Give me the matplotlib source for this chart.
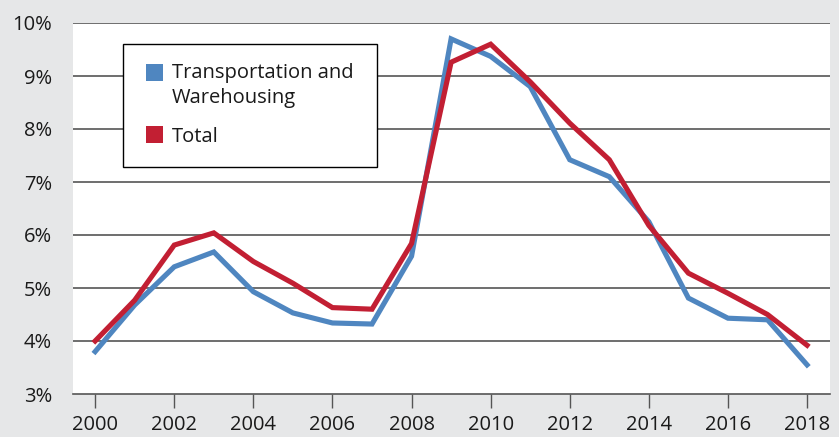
import matplotlib
matplotlib.use("Agg")
import matplotlib.pyplot as plt
from matplotlib.patches import Rectangle
from matplotlib.ticker import FuncFormatter

years = list(range(2000, 2019))
transport = [3.8, 4.68, 5.4, 5.68, 4.93, 4.53, 4.34, 4.32, 5.6, 9.7, 9.37, 8.8,
             7.42, 7.1, 6.25, 4.81, 4.43, 4.4, 3.55]
total = [4.0, 4.77, 5.81, 6.04, 5.5, 5.09, 4.63, 4.6, 5.84, 9.26, 9.6, 8.89,
         8.11, 7.42, 6.18, 5.28, 4.9, 4.5, 3.92]
series_names = ["Transportation and\nWarehousing", "Total"]
colors = ["#4f86c0", "#c21f33"]
yticks = [3, 4, 5, 6, 7, 8, 9, 10]
xticks = list(range(2000, 2019, 2))

plt.rcParams['font.family'] = ['Open Sans', 'DejaVu Sans']

W, H = 839, 437
fig = plt.figure(figsize=(W/100, H/100), dpi=100)
fig.patch.set_facecolor("#e6e7e8")
ax = fig.add_axes([73/W, 1-394/H, 757/W, 371/H])
ax.set_facecolor("white")

for y in yticks[1:]:
    ax.axhline(y, color="#555555", lw=1.2, zorder=1)

ax.plot(years, transport, color=colors[0], lw=3.7, zorder=3, solid_joinstyle='miter')
ax.plot(years, total, color=colors[1], lw=3.7, zorder=4, solid_joinstyle='miter')

ax.set_xlim(1999.44, 2018.58)
ax.set_ylim(3, 10)
ax.set_yticks(yticks)
ax.yaxis.set_major_formatter(FuncFormatter(lambda v, p: f"{int(v)}%"))
ax.set_xticks(xticks)
ax.tick_params(axis='y', length=0, pad=15, labelsize=14.5, colors="#1a1a1a")
ax.tick_params(axis='x', length=10, width=1, color="#555555", pad=5,
               labelsize=14.5, labelcolor="#1a1a1a", direction='out')
for s in ['top', 'right', 'left']:
    ax.spines[s].set_visible(False)
ax.spines['bottom'].set_color("#555555")
ax.spines['bottom'].set_linewidth(1.2)

# manual legend (pixel layout, top-left origin)
def fx(px):
    return px / W

def fy(py):
    return 1 - py / H

box = Rectangle((fx(123), fy(167)), fx(377) - fx(123), fy(44) - fy(167),
                transform=fig.transFigure, facecolor="white", edgecolor="black",
                lw=1.0, zorder=10)
fig.patches.append(box)
sq_tops = [64, 126]
first_baselines = [78, 142]
line_step = 25
for c, name, top, base in zip(colors, series_names, sq_tops, first_baselines):
    sq = Rectangle((fx(146), fy(top + 17)), fx(163) - fx(146), fy(top) - fy(top + 17),
                   transform=fig.transFigure, facecolor=c, edgecolor="none", zorder=11)
    fig.patches.append(sq)
    for i, line in enumerate(name.split("\n")):
        fig.text(fx(172), fy(base + i * line_step), line, fontsize=14.5,
                 color="#1a1a1a", ha='left', va='baseline', zorder=12)

fig.savefig("out.png", dpi=100, facecolor=fig.get_facecolor())
